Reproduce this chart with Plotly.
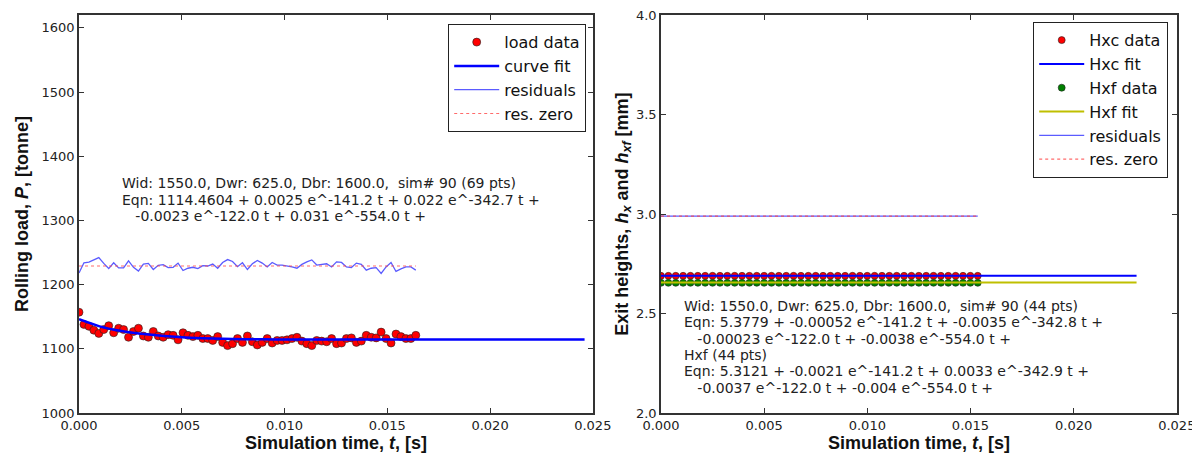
import plotly.graph_objects as go

# ---------------- Left panel data (rolling load) ----------------
load_t = [0.0, 0.000241, 0.000482, 0.000723, 0.000964, 0.001205, 0.001446, 0.001687, 0.001928, 0.002169,
          0.00241, 0.002651, 0.002892, 0.003133, 0.003374, 0.003615, 0.003856, 0.004097, 0.004338, 0.004579,
          0.00482, 0.005061, 0.005302, 0.005543, 0.005784, 0.006025, 0.006266, 0.006507, 0.006748, 0.006989,
          0.00723, 0.007471, 0.007712, 0.007953, 0.008194, 0.008435, 0.008676, 0.008917, 0.009158, 0.009399,
          0.00964, 0.009881, 0.010122, 0.010363, 0.010604, 0.010845, 0.011086, 0.011327, 0.011568, 0.011809,
          0.01205, 0.012291, 0.012532, 0.012773, 0.013014, 0.013255, 0.013496, 0.013737, 0.013978, 0.014219,
          0.01446, 0.014701, 0.014942, 0.015183, 0.015424, 0.015665, 0.015906, 0.016147, 0.016388]
load_data = [1157, 1138, 1135, 1129, 1124, 1130, 1136, 1125, 1132, 1130,
             1118, 1127, 1132, 1120, 1118, 1127, 1120, 1118, 1122, 1121,
             1114, 1125, 1121, 1119, 1121, 1116, 1116, 1113, 1119, 1110,
             1105, 1108, 1116, 1110, 1120, 1111, 1106, 1110, 1116, 1109,
             1113, 1113, 1114, 1116, 1118, 1112, 1108, 1105, 1113, 1112,
             1111, 1116, 1108, 1109, 1116, 1117, 1110, 1112, 1121, 1118,
             1117, 1126, 1116, 1109, 1123, 1119, 1116, 1116, 1121]
fit_t = [0.0, 0.001, 0.002, 0.003, 0.004, 0.005, 0.006, 0.007, 0.008, 0.009, 0.010, 0.012, 0.015, 0.020, 0.0246]
fit_load = [1146, 1135, 1128, 1123.5, 1120.5, 1118, 1116.5, 1115.5, 1115, 1114.7, 1114.5, 1114.5, 1114.5, 1114.5, 1114.5]
load_residuals = [-11, 5, 6, 10, 13, 4, -4, 5, -3, -3,
                  8, -2, -8, 3, 4, -5.5, 1, 2, -2.5, -2,
                  4.5, -7, -3.5, -2, -4, 0.5, 0, 3, -3.5, 5.5,
                  10, 7, -1, 5, -5.5, 3.5, 8.5, 4.5, -1.5, 5.5,
                  1.5, 1.5, 0.5, -1.5, -3.5, 2.5, 6.5, 9.5, 1.5, 2.5,
                  3.5, -1.5, 6.5, 5.5, -1.5, -2.5, 4.5, 2.5, -6.5, -3.5,
                  -2.5, -11.5, -1.5, 5.5, -8.5, -4.5, -1.5, -1.5, -6.5]
load_res_zero = 1229
load_zero_t = [0.0, 0.016388]

# ---------------- Right panel data (exit heights) ----------------
h_t = [0.0, 0.000357, 0.000714, 0.001071, 0.001428, 0.001785, 0.002142, 0.002499, 0.002856, 0.003213,
       0.00357, 0.003927, 0.004284, 0.004641, 0.004998, 0.005355, 0.005712, 0.006069, 0.006426, 0.006783,
       0.00714, 0.007497, 0.007854, 0.008211, 0.008568, 0.008925, 0.009282, 0.009639, 0.009996, 0.010353,
       0.01071, 0.011067, 0.011424, 0.011781, 0.012138, 0.012495, 0.012852, 0.013209, 0.013566, 0.013923,
       0.01428, 0.014637, 0.014994, 0.015351]
hxc_data = [2.69, 2.69, 2.69, 2.69, 2.69, 2.69, 2.69, 2.69, 2.69, 2.69,
            2.69, 2.69, 2.69, 2.69, 2.69, 2.69, 2.69, 2.69, 2.69, 2.69,
            2.69, 2.69, 2.69, 2.69, 2.69, 2.69, 2.69, 2.69, 2.69, 2.69,
            2.69, 2.69, 2.69, 2.69, 2.69, 2.69, 2.69, 2.69, 2.69, 2.69,
            2.69, 2.69, 2.69, 2.69]
hxf_data = [2.655, 2.655, 2.655, 2.655, 2.655, 2.655, 2.655, 2.655, 2.655, 2.655,
            2.655, 2.655, 2.655, 2.655, 2.655, 2.655, 2.655, 2.655, 2.655, 2.655,
            2.655, 2.655, 2.655, 2.655, 2.655, 2.655, 2.655, 2.655, 2.655, 2.655,
            2.655, 2.655, 2.655, 2.655, 2.655, 2.655, 2.655, 2.655, 2.655, 2.655,
            2.655, 2.655, 2.655, 2.655]
h_fit_t = [0.0, 0.005, 0.010, 0.015, 0.02305]
hxc_fit = [2.691, 2.691, 2.691, 2.691, 2.691]
hxf_fit = [2.657, 2.657, 2.657, 2.657, 2.657]
h_res_t = [0.0, 0.005, 0.010, 0.015351]
h_residuals = [0.0, 0.0, 0.0, 0.0]
h_res_zero = 2.99
h_zero_t = [0.0, 0.015351]

# ---------------- Texts ----------------
NB = "\u00a0"
left_lines = ["Wid: 1550.0, Dwr: 625.0, Dbr: 1600.0," + NB + NB + "sim# 90 (69 pts)",
              "Eqn: 1114.4604 + 0.0025 e^-141.2 t + 0.022 e^-342.7 t +",
              NB * 3 + "-0.0023 e^-122.0 t + 0.031 e^-554.0 t +"]
right_lines = ["Wid: 1550.0, Dwr: 625.0, Dbr: 1600.0," + NB + NB + "sim# 90 (44 pts)",
               "Eqn: 5.3779 + -0.00052 e^-141.2 t + -0.0035 e^-342.8 t +",
               NB * 3 + "-0.00023 e^-122.0 t + -0.0038 e^-554.0 t +",
               "Hxf (44 pts)",
               "Eqn: 5.3121 + -0.0021 e^-141.2 t + 0.0033 e^-342.9 t +",
               NB * 3 + "-0.0037 e^-122.0 t + -0.004 e^-554.0 t +"]

W, H = 1200, 458
OFF = 8  # page body margin in the browser


def px(v):
    return (v - OFF) / W


def py(v):
    return 1 - (v - OFF) / H


fig = go.Figure()

marker_edge = dict(color="#222222", width=0.6)

# Left panel traces
fig.add_trace(go.Scatter(x=load_t, y=load_data, mode="markers", name="load data",
                         marker=dict(color="#ff0000", size=8, line=marker_edge),
                         xaxis="x", yaxis="y", legend="legend"))
fig.add_trace(go.Scatter(x=fit_t, y=fit_load, mode="lines", name="curve fit",
                         line=dict(color="#0000ff", width=2.5, shape="spline", smoothing=0.6),
                         xaxis="x", yaxis="y", legend="legend"))
fig.add_trace(go.Scatter(x=load_t, y=[r + load_res_zero for r in load_residuals], mode="lines", name="residuals",
                         line=dict(color="rgba(50,50,255,0.8)", width=1.3),
                         xaxis="x", yaxis="y", legend="legend"))
fig.add_trace(go.Scatter(x=load_zero_t, y=[load_res_zero, load_res_zero], mode="lines", name="res. zero",
                         line=dict(color="rgba(255,70,70,0.8)", width=1.2, dash="dot"),
                         xaxis="x", yaxis="y", legend="legend"))

# Right panel traces
fig.add_trace(go.Scatter(x=h_t, y=hxc_data, mode="markers", name="Hxc data",
                         marker=dict(color="#ff0000", size=7, line=marker_edge),
                         xaxis="x2", yaxis="y2", legend="legend2"))
fig.add_trace(go.Scatter(x=h_fit_t, y=hxc_fit, mode="lines", name="Hxc fit",
                         line=dict(color="#0000ff", width=2),
                         xaxis="x2", yaxis="y2", legend="legend2"))
fig.add_trace(go.Scatter(x=h_t, y=hxf_data, mode="markers", name="Hxf data",
                         marker=dict(color="#008000", size=7, line=marker_edge),
                         xaxis="x2", yaxis="y2", legend="legend2"))
fig.add_trace(go.Scatter(x=h_fit_t, y=hxf_fit, mode="lines", name="Hxf fit",
                         line=dict(color="#bfbf00", width=2),
                         xaxis="x2", yaxis="y2", legend="legend2"))
fig.add_trace(go.Scatter(x=h_res_t, y=[r + h_res_zero for r in h_residuals], mode="lines", name="residuals",
                         line=dict(color="rgba(50,50,255,0.8)", width=1.3),
                         xaxis="x2", yaxis="y2", legend="legend2"))
fig.add_trace(go.Scatter(x=h_zero_t, y=[h_res_zero, h_res_zero], mode="lines", name="res. zero",
                         line=dict(color="rgba(255,70,70,0.8)", width=1.2, dash="dot"),
                         xaxis="x2", yaxis="y2", legend="legend2"))

tick_font = dict(family="DejaVu Sans", size=13, color="#222222")
title_font = dict(family="Liberation Sans", size=18, color="#111111")


def xaxis_style(domain, anchor):
    return dict(domain=domain, anchor=anchor, range=[0, 0.02501], tickvals=[0, 0.005, 0.01, 0.015, 0.02, 0.025],
                tickformat=".3f", showline=True, mirror="ticks", linecolor="#333333", linewidth=1.5,
                ticks="inside", ticklen=5, tickcolor="#333333", showgrid=False, zeroline=False,
                tickfont=tick_font, automargin=False, ticklabeloverflow="allow",
                title=dict(text="<b>Simulation time, <i>t</i>, [s]</b>", font=title_font, standoff=0))


def yaxis_common():
    return dict(showline=True, mirror="ticks", linecolor="#333333", linewidth=1.5,
                ticks="inside", ticklen=5, tickcolor="#333333", showgrid=False, zeroline=False,
                tickfont=tick_font, automargin=False, ticklabeloverflow="allow")


annotations = []
for k, line in enumerate(left_lines):
    annotations.append(dict(text=line, xref="paper", yref="paper", x=px(120), y=py(183.3 + 16.3 * k),
                            xanchor="left", yanchor="middle", align="left", showarrow=False,
                            font=dict(family="DejaVu Sans", size=14, color="#222222")))
for k, line in enumerate(right_lines):
    annotations.append(dict(text=line, xref="paper", yref="paper", x=px(682), y=py(306 + 16.3 * k),
                            xanchor="left", yanchor="middle", align="left", showarrow=False,
                            font=dict(family="DejaVu Sans", size=14, color="#222222")))

fig.update_layout(
    width=W, height=H,
    margin=dict(l=0, r=0, t=0, b=0),
    paper_bgcolor="white", plot_bgcolor="white",
    showlegend=True,
    xaxis=xaxis_style([px(79), px(593)], "y"),
    yaxis=dict(domain=[py(413), py(15)], anchor="x", range=[1000, 1620],
               tickvals=[1000, 1100, 1200, 1300, 1400, 1500, 1600],
               title=dict(text="<b>Rolling load, <i>P</i>, [tonne]</b>", font=title_font, standoff=8),
               **yaxis_common()),
    xaxis2=xaxis_style([px(661), px(1177)], "y2"),
    yaxis2=dict(domain=[py(413), py(15)], anchor="x2", range=[2.0, 4.002],
                tickvals=[2.0, 2.5, 3.0, 3.5, 4.0], ticktext=["2.0", "2.5", "3.0", "3.5", "4.0"],
                title=dict(text="<b>Exit heights, <i>h<sub>x</sub></i> and <i>h<sub>xf</sub></i> [mm]</b>",
                           font=title_font, standoff=3),
                **yaxis_common()),
    legend=dict(x=px(586), y=py(24), xanchor="right", yanchor="top", bgcolor="white",
                bordercolor="#222222", borderwidth=1.2, itemwidth=45,
                font=dict(family="DejaVu Sans", size=16, color="#111111")),
    legend2=dict(x=px(1168), y=py(22), xanchor="right", yanchor="top", bgcolor="white",
                 bordercolor="#222222", borderwidth=1.2, itemwidth=45,
                 font=dict(family="DejaVu Sans", size=16, color="#111111")),
    annotations=annotations,
)

fig.write_html("out.html")
